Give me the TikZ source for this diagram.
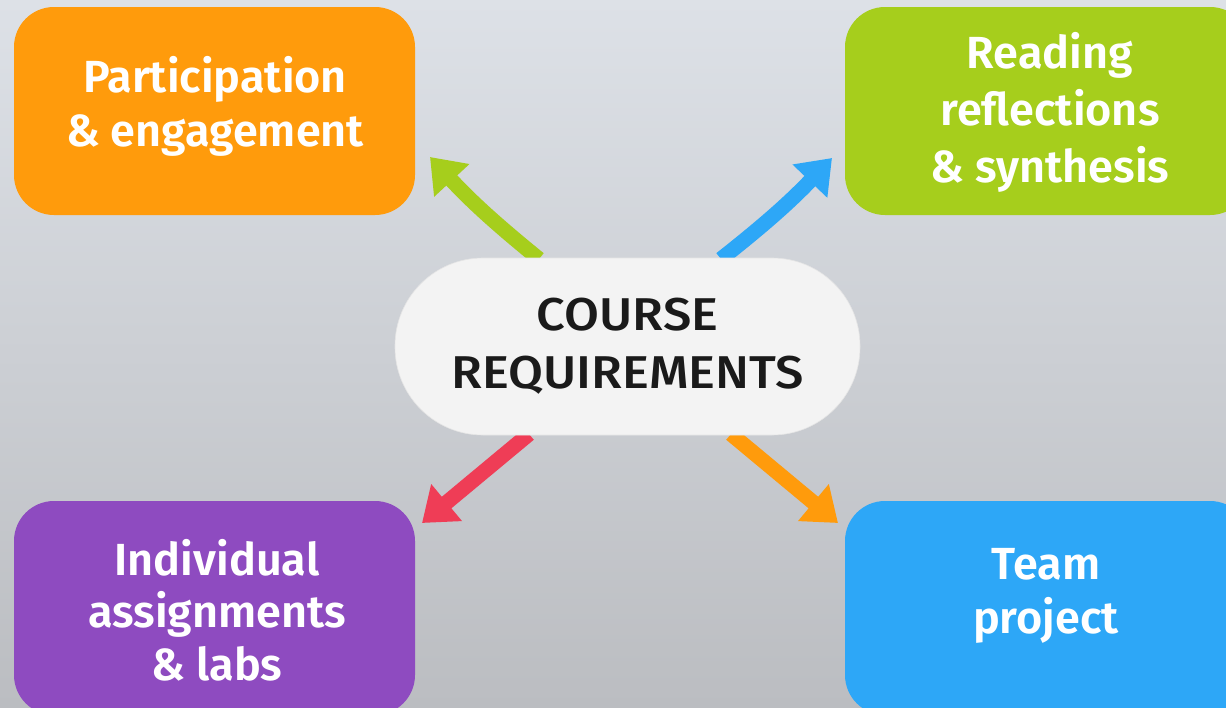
\documentclass[tikz,border=0pt]{standalone}
\usepackage{fontspec}
\setmainfont{Fira Sans}
\newfontfamily\boxfont{Fira Sans SemiBold}
\newfontfamily\centerfont{Fira Sans Medium}[FakeStretch=1.1]
\usetikzlibrary{arrows.meta}
\definecolor{bgtop}{HTML}{DDE1E7}
\definecolor{bgbot}{HTML}{BBBDC1}
\definecolor{cOrange}{HTML}{FF9B0C}
\definecolor{cGreen}{HTML}{A6CE1C}
\definecolor{cPurple}{HTML}{8E4BC0}
\definecolor{cBlue}{HTML}{2DA7F7}
\definecolor{cRed}{HTML}{EF3D56}
\definecolor{cPill}{HTML}{F3F3F3}
\definecolor{cText}{HTML}{1A1A1A}
\begin{document}
\begin{tikzpicture}[x=1pt,y=-1pt,
  catbox/.style={rectangle, rounded corners=40pt, minimum width=401pt, minimum height=208pt, inner sep=0pt},
  cattext/.style={text=white, align=center, inner sep=0pt, font=\boxfont\fontsize{45}{54}\selectfont},
  pill/.style={rectangle, rounded corners=88pt, minimum width=465pt, minimum height=177pt,
    fill=cPill, draw=white!90!black, line width=0.6pt, text=cText, align=center,
    font=\centerfont\fontsize{46}{58}\selectfont},
  spoke/.style={line width=15pt, -{Triangle[length=32pt,width=46pt]}}
]
\useasboundingbox (0,0) rectangle (1226,707);
\fill[top color=bgtop, bottom color=bgbot] (0,0) rectangle (1226,707);

\node[catbox, fill=cOrange] (part) at (214.5,111) {};
\node[catbox, fill=cGreen, minimum width=405pt] (read) at (1047.5,111) {};
\node[catbox, fill=cPurple, minimum height=214pt] (indiv) at (214.5,608) {};
\node[catbox, fill=cBlue, minimum width=405pt, minimum height=214pt] (team) at (1047.5,608) {};

\node[cattext] (parttxt) at (215,106) {Participation\\\& engagement};
\node[cattext, font=\boxfont\fontsize{45}{57}\selectfont] (readtxt) at (1050,112) {Reading\\reflections\\\& synthesis};
\node[cattext, font=\boxfont\fontsize{45}{52.5}\selectfont] (indivtxt) at (217,610) {Individual\\assignments\\\& labs};
\node[cattext] (teamtxt) at (1046,596) {Team\\project};

\coordinate (gtail) at (539,259);
\coordinate (gtip) at (430,157);
\coordinate (btail) at (721,259);
\coordinate (btip) at (832,158);
\coordinate (rtail) at (529,434);
\coordinate (rtip) at (422,523);
\coordinate (otail) at (731,434);
\coordinate (otip) at (838,523);

\draw[spoke, cGreen] (gtail) to[bend left=4] (gtip);
\draw[spoke, cBlue] (btail) to[bend right=4] (btip);
\draw[spoke, cRed] (rtail) -- (rtip);
\draw[spoke, cOrange] (otail) -- (otip);

\node[pill] (core) at (627.5,346.5) {COURSE\\REQUIREMENTS};
\end{tikzpicture}
\end{document}
